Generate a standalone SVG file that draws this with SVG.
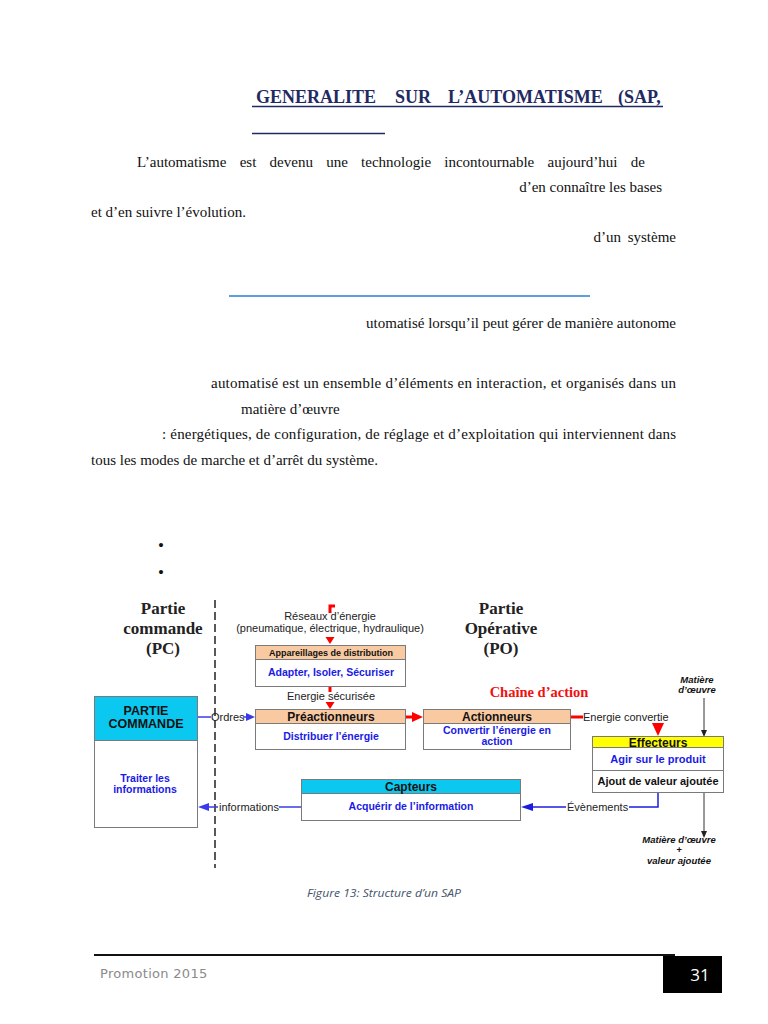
<svg xmlns="http://www.w3.org/2000/svg" width="768" height="1024" viewBox="0 0 768 1024">
<style>
.body{font-family:"Liberation Serif","Times New Roman",serif;font-size:15px;fill:#111}
.title{font-family:"Liberation Serif","Times New Roman",serif;font-size:18px;font-weight:bold;fill:#1f2a63}
.head{font-family:"Liberation Serif","Times New Roman",serif;font-size:17px;font-weight:bold;fill:#222;text-anchor:middle}
.lab{font-family:"Liberation Sans",Arial,sans-serif;font-size:11px;fill:#222}
.hd{font-family:"Liberation Sans",Arial,sans-serif;font-size:12px;font-weight:bold;fill:#111;text-anchor:middle}
.bl{font-family:"Liberation Sans",Arial,sans-serif;font-size:10.5px;font-weight:bold;fill:#1a1ae6;text-anchor:middle}
.it{font-family:"Liberation Sans",Arial,sans-serif;font-size:9.5px;font-weight:bold;font-style:italic;fill:#111;text-anchor:middle}
.box{fill:#fff;stroke:#7a7a7a;stroke-width:1}
.peach{fill:#f9c9a1;stroke:#7a7a7a;stroke-width:1}
.cyan{fill:#0bc8f0;stroke:#7a7a7a;stroke-width:1}
.yel{fill:#ffff00;stroke:#7a7a7a;stroke-width:1}
.red{stroke:#f00;stroke-width:3;fill:none}
.blue{stroke:#3a3ae8;stroke-width:1.5;fill:none}
.blk{stroke:#333;stroke-width:1;fill:none}
</style>

<g id="text-section">
  <text class="title" x="256" y="103">GENERALITE</text>
  <text class="title" x="395" y="103">SUR</text>
  <text class="title" x="448" y="103">L’AUTOMATISME</text>
  <text class="title" x="618" y="103">(SAP,</text>
  <line x1="252" y1="106.5" x2="663" y2="106.5" stroke="#1f2a63" stroke-width="1.5"/>
  <line x1="252" y1="133.5" x2="385" y2="133.5" stroke="#1f2a63" stroke-width="1.5"/>

  <text class="body" x="137" y="167" style="word-spacing:9.5px">L’automatisme est devenu une technologie incontournable aujourd’hui de</text>
  <text class="body" x="662" y="192" text-anchor="end">d’en connaître les bases</text>
  <text class="body" x="91" y="217">et d’en suivre l’évolution.</text>
  <text class="body" x="676" y="242" text-anchor="end" style="word-spacing:3px">d’un système</text>
  <line x1="229" y1="296" x2="590" y2="296" stroke="#2a7fd4" stroke-width="1.3"/>
  <text class="body" x="676" y="328" text-anchor="end">utomatisé lorsqu’il peut gérer de manière autonome</text>
  <text class="body" x="211" y="388" textLength="465" lengthAdjust="spacing">automatisé est un ensemble d’éléments en interaction, et organisés dans un</text>
  <text class="body" x="241" y="414">matière d’œuvre</text>
  <text class="body" x="162" y="439" textLength="514" lengthAdjust="spacing">: énergétiques, de configuration, de réglage et d’exploitation qui interviennent dans</text>
  <text class="body" x="91" y="465">tous les modes de marche et d’arrêt du système.</text>

  <text class="body" x="158" y="551" style="font-size:17px">•</text>
  <text class="body" x="158" y="578" style="font-size:17px">•</text>
</g>

<g id="diagram-labels">
  <text class="head" x="163" y="614">Partie</text>
  <text class="head" x="163" y="634">commande</text>
  <text class="head" x="163" y="654">(PC)</text>
  <text class="head" x="501" y="614">Partie</text>
  <text class="head" x="501" y="634">Opérative</text>
  <text class="head" x="501" y="654">(PO)</text>
  <text x="539" y="697" text-anchor="middle" style="font-family:'Liberation Serif','Times New Roman',serif;font-size:14.5px;font-weight:bold;fill:#f01010">Chaîne d’action</text>
  <text class="lab" x="330" y="620" text-anchor="middle">Réseaux d’énergie</text>
  <text class="lab" x="330" y="632" text-anchor="middle">(pneumatique, électrique, hydraulique)</text>
  <text class="lab" x="331" y="700" text-anchor="middle">Energie sécurisée</text>
  <text class="lab" x="583" y="721">Energie convertie</text>
  <text class="lab" x="211" y="721">Ordres</text>
  <text class="lab" x="219" y="811">informations</text>
  <text class="lab" x="567" y="811">Évènements</text>
  <text class="it" x="697" y="683">Matière</text>
  <text class="it" x="697" y="693">d’œuvre</text>
  <text class="it" x="679" y="843">Matière d’œuvre</text>
  <text class="it" x="679" y="853">+</text>
  <text class="it" x="679" y="864">valeur ajoutée</text>
</g>

<g id="connectors">
  <line x1="215" y1="600" x2="215" y2="868" stroke="#222" stroke-width="1.5" stroke-dasharray="8,4"/>
  <path class="red" d="M330 613 V606 H335"/>
  <polygon points="325.5,637 334.5,637 330,644" fill="#f00"/>
  <line class="red" x1="330" y1="686" x2="330" y2="692"/>
  <polygon points="325.5,702 334.5,702 330,709" fill="#f00"/>
  <line class="red" x1="406" y1="717" x2="413" y2="717"/>
  <polygon points="412,712 412,722 423,717" fill="#f00"/>
  <line class="red" x1="571" y1="717" x2="583" y2="717"/>
  <polygon points="652,723 664,723 658,736" fill="#f00"/>
  <line class="blue" x1="197" y1="717" x2="211" y2="717"/>
  <line class="blue" x1="243" y1="717" x2="247" y2="717"/>
  <polygon points="246,713 246,721 255,717" fill="#3a3ae8"/>
  <line class="blue" x1="301" y1="807" x2="279" y2="807"/>
  <line class="blue" x1="218" y1="807" x2="207" y2="807"/>
  <polygon points="209,803 209,811 198,807" fill="#3a3ae8"/>
  <path class="blue" d="M658 793 V807 H629" style="stroke:#1c1ce0"/>
  <line class="blue" x1="566" y1="807" x2="531" y2="807" style="stroke:#1c1ce0"/>
  <polygon points="533,803 533,811 521,807" fill="#1c1ce0"/>
  <line class="blk" x1="704" y1="698" x2="704" y2="731"/>
  <polygon points="701,730 707,730 704,737" fill="#222"/>
  <line class="blk" x1="704" y1="793" x2="704" y2="832"/>
  <polygon points="701,831 707,831 704,838" fill="#222"/>
</g>

<g id="node-appareillages">
  <rect class="box" x="255.5" y="645.5" width="150" height="41"/>
  <rect class="peach" x="255.5" y="645.5" width="150" height="14"/>
  <text class="hd" x="331" y="656" style="font-size:9px">Appareillages de distribution</text>
  <text class="bl" x="331" y="676">Adapter, Isoler, Sécuriser</text>
</g>
<g id="node-preactionneurs">
  <rect class="box" x="255.5" y="709.5" width="150" height="40"/>
  <rect class="peach" x="255.5" y="709.5" width="150" height="14"/>
  <text class="hd" x="331" y="720.5">Préactionneurs</text>
  <text class="bl" x="331" y="740">Distribuer l’énergie</text>
</g>
<g id="node-actionneurs">
  <rect class="box" x="423.5" y="709.5" width="147" height="40"/>
  <rect class="peach" x="423.5" y="709.5" width="147" height="14"/>
  <text class="hd" x="497" y="720.5">Actionneurs</text>
  <text class="bl" x="497" y="734">Convertir l’énergie en</text>
  <text class="bl" x="497" y="745">action</text>
</g>
<g id="node-effecteurs">
  <rect class="box" x="592.5" y="736.5" width="131" height="56"/>
  <rect class="yel" x="592.5" y="736.5" width="131" height="11"/>
  <line x1="592.5" y1="770.5" x2="723.5" y2="770.5" stroke="#7a7a7a"/>
  <text class="hd" x="658" y="746.5">Effecteurs</text>
  <text class="bl" x="658" y="763" style="font-size:11px">Agir sur le produit</text>
  <text class="hd" x="658" y="785" style="font-size:11px">Ajout de valeur ajoutée</text>
</g>
<g id="node-capteurs">
  <rect class="box" x="301.5" y="779.5" width="219" height="41"/>
  <rect class="cyan" x="301.5" y="779.5" width="219" height="14"/>
  <text class="hd" x="411" y="790.5">Capteurs</text>
  <text class="bl" x="411" y="810">Acquérir de l’information</text>
</g>
<g id="node-partie-commande">
  <rect class="box" x="94.5" y="696.5" width="103" height="131"/>
  <rect class="cyan" x="94.5" y="696.5" width="103" height="44"/>
  <text class="hd" x="146" y="715" style="font-size:12.5px">PARTIE</text>
  <text class="hd" x="146" y="728" style="font-size:12.5px">COMMANDE</text>
  <text class="bl" x="145" y="782">Traiter les</text>
  <text class="bl" x="145" y="793">informations</text>
</g>

<text x="384" y="897" text-anchor="middle" textLength="154" lengthAdjust="spacingAndGlyphs" style="font-family:'Open Sans','Noto Sans',sans-serif;font-size:10.5px;font-style:italic;fill:#44546a">Figure 13: Structure d’un SAP</text>

<g id="footer">
  <line x1="94" y1="955" x2="675" y2="955" stroke="#111" stroke-width="2"/>
  <rect x="663" y="956" width="59" height="37" fill="#000"/>
  <text x="700" y="981" text-anchor="middle" style="font-family:'Open Sans','Liberation Sans',sans-serif;font-size:17px;fill:#fff">31</text>
  <text x="100" y="978" style="font-family:'DejaVu Sans',sans-serif;font-size:13px;fill:#8a8a8a;letter-spacing:0.3px">Promotion 2015</text>
</g>
</svg>
